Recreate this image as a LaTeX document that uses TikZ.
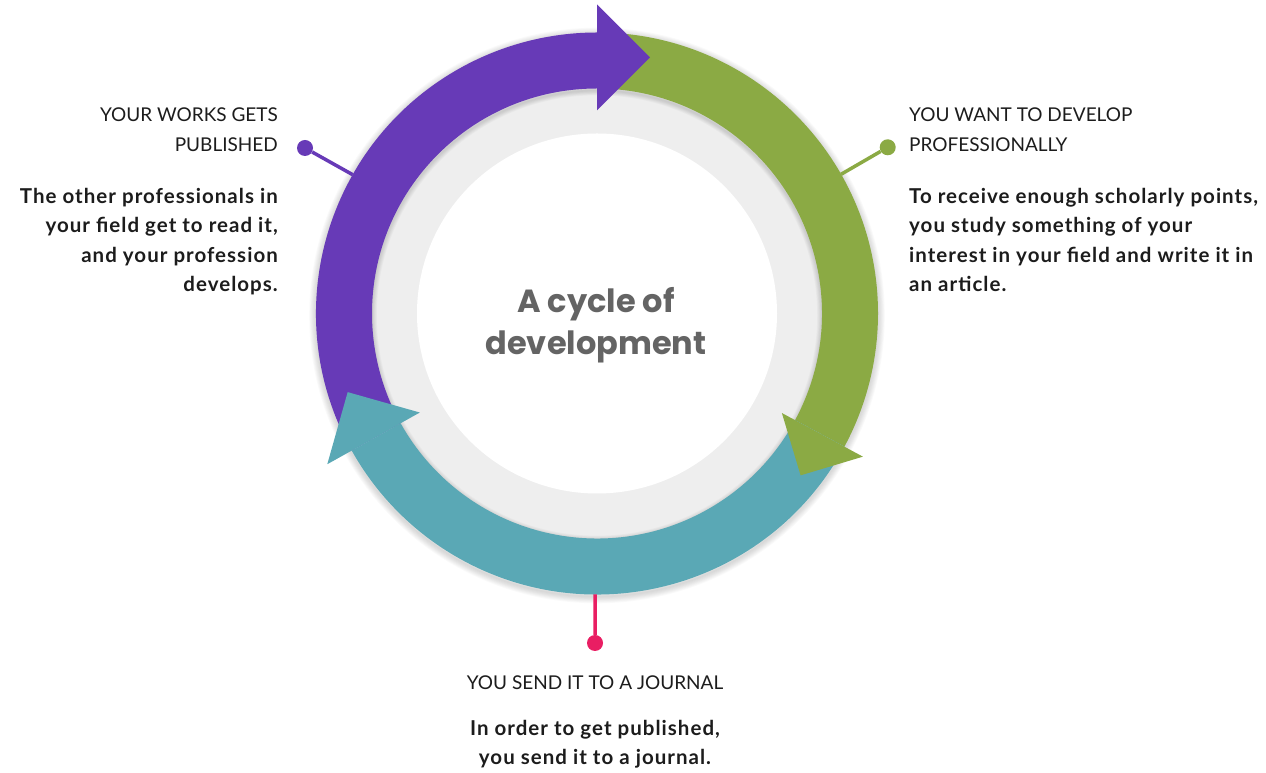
\documentclass[tikz,border=0pt]{standalone}
\usepackage{fontspec}
\setmainfont{Lato}
\newfontfamily\bodyfont[LetterSpace=5.0]{Lato}
\newfontfamily\titlefont{Poppins}
\usetikzlibrary{positioning}
\definecolor{cyclepurple}{HTML}{673AB7}
\definecolor{cyclegreen}{HTML}{8BAA44}
\definecolor{cycleteal}{HTML}{5AA8B5}
\definecolor{cyclepink}{HTML}{E91E63}
\definecolor{ringgray}{HTML}{EEEEEE}
\definecolor{titlegray}{HTML}{646464}
\definecolor{inktext}{HTML}{1C1C1C}
\begin{document}
\begin{tikzpicture}[x=1pt,y=1pt]
\tikzset{steptitle/.style={font=\fontsize{19}{30}\selectfont, text=inktext, inner sep=0pt},
  stepbody/.style={font=\bodyfont\fontsize{20.5}{29.5}\selectfont\bfseries, text=inktext, inner sep=0pt},
  leaddot/.style={circle, fill=#1, minimum size=16pt, inner sep=0pt},
  leadline/.style={draw=#1, line width=3.5pt}}
\useasboundingbox (0,0) rectangle (1266,773);
\coordinate (C) at (597,459.5);
\begin{scope}[shift={(C)}]
% gray ring and soft shadows
\fill[ringgray] (0,0) circle[radius=240];
\foreach \i in {1,...,8}
  \draw[black, opacity=0.02, line width=\i*1.7pt] (0,-2) circle[radius=281];
\foreach \i in {1,...,6}
  \draw[black, opacity=0.022, line width=\i*1.6pt] (0,-2) circle[radius=225];
\fill[white] (0,0) circle[radius=180];
% bands
\foreach \col/\from/\to in {cyclepurple/209.2/90, cyclegreen/90/-28.3, cycleteal/-28.3/-150.8}
  \fill[\col] (\from:281) arc[start angle=\from, end angle=\to, radius=281]
    -- (\to:225) arc[start angle=\to, end angle=\from, radius=225] -- cycle;
% heads
\foreach \col/\to/\hw in {cyclepurple/90/53, cyclegreen/-28.3/46, cycleteal/-150.8/53}
  \fill[\col] (\to:{256+\hw}) -- (\to:{256-\hw})
    -- ([shift={(\to-90:\hw)}]\to:256) -- cycle;
\coordinate (pubend) at (150.4:281);
\coordinate (devend) at (29.7:281);
\coordinate (jourend) at (-90.4:281);
\end{scope}

\node[titlegray, font=\titlefont\bfseries\fontsize{32}{42}\selectfont, align=center, anchor=north, inner sep=0pt]
  (cycletitle) at (596,486) {A cycle of\\development};

% leader lines
\node[leaddot=cyclepurple] (pubdot) at (305,625) {};
\node[leaddot=cyclegreen] (devdot) at (887.7,625.7) {};
\node[leaddot=cyclepink] (jourdot) at (595,130) {};
\draw[leadline=cyclepurple] (pubdot) -- (pubend);
\draw[leadline=cyclegreen] (devdot) -- (devend);
\draw[leadline=cyclepink] (jourdot) -- (jourend);

% texts
\node[steptitle, align=right, anchor=north east] (pubhead) at (278,665) {YOUR WORKS GETS\\PUBLISHED};
\node[stepbody, align=right, anchor=north east] (pubbody) at (278,585)
  {The other professionals in\\your field get to read it,\\and your profession\\develops.};
\node[steptitle, align=left, anchor=north west] (devhead) at (909,665) {YOU WANT TO DEVELOP\\PROFESSIONALLY};
\node[stepbody, align=left, anchor=north west] (devbody) at (909,585)
  {To receive enough scholarly points,\\you study something of your\\interest in your field and write it in\\an article.};
\node[steptitle, anchor=north] (jourhead) at (595,97) {YOU SEND IT TO A JOURNAL};
\node[stepbody, align=center, anchor=north] (jourbody) at (595,53)
  {In order to get published,\\you send it to a journal.};
\end{tikzpicture}
\end{document}
